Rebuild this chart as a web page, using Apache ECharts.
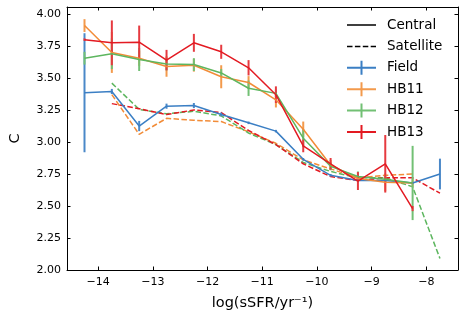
<!DOCTYPE html>
<html>
<head>
<meta charset="utf-8">
<script src="https://cdn.jsdelivr.net/npm/echarts@6/dist/echarts.min.js"></script>
<style>html,body{margin:0;padding:0;background:#fff}#c{width:464px;height:321px}</style>
</head>
<body>
<div id="c"></div>
<script>
// ---- data ----
const xBins = [-14.25, -13.75, -13.25, -12.75, -12.25, -11.75, -11.25, -10.75, -10.25, -9.75, -9.25, -8.75, -8.25, -7.75];

const fieldC   = [3.385, 3.395, 3.125, 3.28, 3.285, 3.215, 3.15, 3.085, 2.865, 2.74, 2.70, 2.70, 2.68, 2.75];
const fieldErr = [0.465, 0.02, 0.04, 0.02, 0.02, 0.015, 0.01, 0.01, 0.01, 0.01, 0.01, 0.01, 0.01, 0.12];

const hb11C   = [3.91, 3.70, 3.655, 3.59, 3.60, 3.51, 3.465, 3.33, 3.10, 2.82, 2.715, 2.685, 2.68];
const hb11Err = [0.05, 0.16, 0.06, 0.08, 0.05, 0.09, 0.05, 0.06, 0.06, 0.04, 0.03, 0.07, 0.03];

const hb12C   = [3.655, 3.69, 3.645, 3.61, 3.605, 3.54, 3.42, 3.38, 3.03, 2.81, 2.73, 2.71, 2.68];
const hb12Err = [0.05, 0.12, 0.09, 0.05, 0.05, 0.03, 0.06, 0.03, 0.07, 0.03, 0.04, 0.03, 0.29];

const hb13C   = [3.80, 3.775, 3.78, 3.64, 3.775, 3.705, 3.58, 3.37, 2.97, 2.83, 2.695, 2.83, 2.48];
const hb13Err = [0.01, 0.175, 0.13, 0.08, 0.07, 0.055, 0.06, 0.065, 0.05, 0.045, 0.07, 0.225, 0.02];

const hb11S = [null, 3.37, 3.06, 3.185, 3.17, 3.16, 3.08, 2.99, 2.86, 2.79, 2.72, 2.74, 2.75];
const hb12S = [null, 3.46, 3.255, 3.22, 3.24, 3.205, 3.07, 2.98, 2.84, 2.77, 2.72, 2.72, 2.65, 2.09];
const hb13S = [null, 3.30, 3.26, 3.215, 3.25, 3.23, 3.09, 2.98, 2.83, 2.73, 2.70, 2.72, 2.72, 2.60];

const xTicks = [-14, -13, -12, -11, -10, -9, -8];
const yTicks = [2.00, 2.25, 2.50, 2.75, 3.00, 3.25, 3.50, 3.75, 4.00];
const legendNames = ['Central', 'Satellite', 'Field', 'HB11', 'HB12', 'HB13'];

// ---- styling ----
const FONT = 'DejaVu Sans';
const COL = {Field: '#3b7fc4', HB11: '#f28c38', HB12: '#5db65f', HB13: '#e31a22'};
const ERRCOL = {Field: '#4a88c8', HB11: '#f39a4c', HB12: '#72c074', HB13: '#e63a40'};

function pairs(ys) {
  const out = [];
  ys.forEach((y, i) => { if (y != null) out.push([xBins[i], y]); });
  return out;
}
function errData(ys, es) {
  return ys.map((y, i) => [xBins[i], y - es[i], y + es[i]]);
}
function lineSeries(name, ys, dashed) {
  return {
    type: 'line', name: dashed ? name + ' sat' : name, data: pairs(ys),
    showSymbol: false, symbol: 'none', animation: false,
    lineStyle: {color: COL[name], width: 1.5, type: dashed ? [5.5, 2.4] : 'solid'},
    itemStyle: {color: COL[name]}, z: dashed ? 3 : 4
  };
}
function errSeries(name, ys, es) {
  const c = ERRCOL[name];
  return {
    type: 'custom', name: name + ' err', data: errData(ys, es), animation: false, z: 4,
    renderItem: function (params, api) {
      const p1 = api.coord([api.value(0), api.value(1)]);
      const p2 = api.coord([api.value(0), api.value(2)]);
      return {type: 'line', shape: {x1: p1[0], y1: p1[1], x2: p2[0], y2: p2[1]},
              style: {stroke: c, lineWidth: 2}};
    }
  };
}

// legend icons (29 x 14 box; tiny anchors fix bounding box)
const anchors = 'M0,0L0,0Z M29,14L29,14Z ';
const iconSolid = 'path://' + anchors + 'M0,6.25H29V7.75H0Z';
const iconDash = 'path://' + anchors + 'M0,6.25H5.5V7.75H0Z M7.9,6.25H13.4V7.75H7.9Z M15.8,6.25H21.3V7.75H15.8Z M23.7,6.25H29V7.75H23.7Z';
const iconPlus = 'path://' + anchors + 'M0,6H29V8H0Z M13.5,0H15.5V14H13.5Z';

const chart = echarts.init(document.getElementById('c'), null, {renderer: 'canvas'});

const axisCommon = {
  axisLine: {show: true, onZero: false, lineStyle: {color: '#000', width: 1}},
  splitLine: {show: false}
};

const series = [
  {type: 'line', name: 'Central', data: [], itemStyle: {color: '#000'}, lineStyle: {color: '#000'}},
  {type: 'line', name: 'Satellite', data: [], itemStyle: {color: '#000'}, lineStyle: {color: '#000'}},
  lineSeries('Field', fieldC, false), errSeries('Field', fieldC, fieldErr),
  lineSeries('HB11', hb11C, false), errSeries('HB11', hb11C, hb11Err),
  lineSeries('HB12', hb12C, false), errSeries('HB12', hb12C, hb12Err),
  lineSeries('HB13', hb13C, false), errSeries('HB13', hb13C, hb13Err),
  lineSeries('HB11', hb11S, true),
  lineSeries('HB12', hb12S, true),
  lineSeries('HB13', hb13S, true)
];

const icons = [iconSolid, iconDash, iconPlus, iconPlus, iconPlus, iconPlus];
const legendColors = ['#000', '#000', COL.Field, ERRCOL.HB11, ERRCOL.HB12, COL.HB13];

chart.setOption({
  animation: false,
  grid: {left: 62, right: 6, top: 7, bottom: 51, containLabel: false},
  legend: {
    orient: 'vertical', left: 347, top: 18, padding: 0,
    itemWidth: 29, itemHeight: 14, itemGap: 7.4, symbolKeepAspect: false,
    data: legendNames.map((n, i) => ({name: n, icon: icons[i], itemStyle: {color: legendColors[i], borderWidth: 0}})),
    textStyle: {fontFamily: FONT, fontSize: 13.5, color: '#000', lineHeight: 14, padding: [0, 0, 0, 6]},
    selectedMode: false
  },
  xAxis: [
    Object.assign({}, axisCommon, {
      type: 'value', position: 'bottom', min: -14.57, max: -7.42,
      axisTick: {show: true, inside: true, length: 3.5, customValues: xTicks, lineStyle: {color: '#000'}},
      axisLabel: {show: true, customValues: xTicks, margin: 7, fontFamily: FONT, fontSize: 11, color: '#000',
                  formatter: v => String(v).replace('-', '\u2212')},
      name: 'log(sSFR/yr\u207B\u00B9)', nameLocation: 'middle', nameGap: 26,
      nameTextStyle: {fontFamily: FONT, fontSize: 14.5, color: '#000'}
    }),
    Object.assign({}, axisCommon, {
      type: 'value', position: 'top', min: -14.57, max: -7.42,
      axisTick: {show: true, inside: true, length: 3.5, customValues: xTicks, lineStyle: {color: '#000'}},
      axisLabel: {show: false}
    })
  ],
  yAxis: [
    Object.assign({}, axisCommon, {
      type: 'value', position: 'left', min: 2, max: 4.055,
      axisTick: {show: true, inside: true, length: 3.5, customValues: yTicks, lineStyle: {color: '#000'}},
      axisLabel: {show: true, customValues: yTicks, margin: 6, fontFamily: FONT, fontSize: 11, color: '#000',
                  formatter: v => v.toFixed(2)},
      name: 'C', nameLocation: 'middle', nameGap: 44, nameRotate: 90,
      nameTextStyle: {fontFamily: FONT, fontSize: 14.5, color: '#000'}
    }),
    Object.assign({}, axisCommon, {
      type: 'value', position: 'right', min: 2, max: 4.055,
      axisTick: {show: true, inside: true, length: 3.5, customValues: yTicks, lineStyle: {color: '#000'}},
      axisLabel: {show: false}
    })
  ],
  series: series
});
</script>
</body>
</html>
